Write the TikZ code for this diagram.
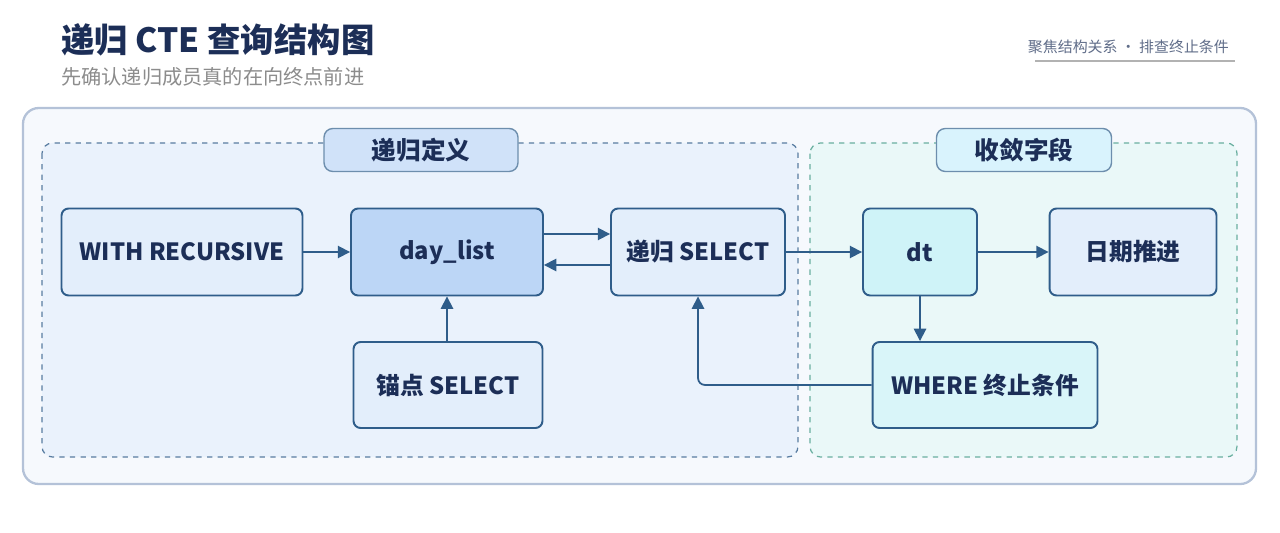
\documentclass[tikz,border=0pt]{standalone}
\usepackage{fontspec}
\setmainfont{Noto Sans CJK SC}
\usetikzlibrary{arrows.meta, positioning}

\definecolor{ink}{HTML}{1C2E57}
\definecolor{edge}{HTML}{2F5D8A}
\definecolor{boxblue}{HTML}{E3EEFB}
\definecolor{boxdeep}{HTML}{BCD6F6}
\definecolor{boxcyan}{HTML}{CFF3F8}
\definecolor{tealline}{HTML}{6AAFA0}
\definecolor{panelfill}{HTML}{F6F9FD}
\definecolor{panelline}{HTML}{B4C2D8}
\definecolor{groupfill}{HTML}{EAF2FC}
\definecolor{groupcyan}{HTML}{EAF8F8}

\tikzset{
    stage/.style={draw=edge, line width=1.1pt, rounded corners=4pt, fill=boxblue,
        text=ink, font=\fontsize{13.5}{15}\selectfont\bfseries, inner sep=0pt},
    link/.style={draw=edge, line width=1pt, -{Triangle[length=7pt, width=7pt]}},
    tag/.style={draw=edge!70, line width=0.8pt, rounded corners=5pt,
        text=ink, font=\fontsize{14}{16}\selectfont\bfseries, inner sep=0pt}
}

\begin{document}
\begin{tikzpicture}[x=0.02cm, y=-0.02cm]
        \useasboundingbox[fill=white] (0,0) rectangle (1280,533);
        % header
        \node[anchor=west, text=ink, font=\fontsize{19}{22}\selectfont\bfseries] (title) at (55,40) {递归 CTE 查询结构图};
        \node[anchor=west, text=gray!90, font=\fontsize{11.5}{14}\selectfont] (subtitle) at (55,77) {先确认递归成员真的在向终点前进};
        \node[anchor=east, text=ink!70, font=\fontsize{8.5}{10}\selectfont] (hint) at (1235,47) {聚焦结构关系 · 排查终止条件};
        \draw[gray!60, line width=1pt] (1035,61) -- (1235,61);
        % panel and groups
        \draw[draw=panelline, line width=1.3pt, fill=panelfill, rounded corners=9pt] (23,108) rectangle (1256,484);
        \draw[draw=edge!80, dashed, line width=0.7pt, fill=groupfill, rounded corners=6pt] (42,143) rectangle (798,457);
        \draw[draw=tealline, dashed, line width=0.7pt, fill=groupcyan, rounded corners=6pt] (810,143) rectangle (1237,457);
        \node[tag, fill=boxdeep!70, minimum width=3.88cm, minimum height=0.86cm] (def) at (421,150) {递归定义};
        \node[tag, fill=cyan!15, minimum width=3.5cm, minimum height=0.86cm] (conv) at (1024,150) {收敛字段};
        % stages
        \node[stage, minimum width=4.82cm, minimum height=1.74cm] (with) at (182,252) {WITH RECURSIVE};
        \node[stage, fill=boxdeep, minimum width=3.84cm, minimum height=1.74cm] (day) at (447,252) {day\_list};
        \node[stage, minimum width=3.48cm, minimum height=1.74cm] (rec) at (698,252) {递归 SELECT};
        \node[stage, minimum width=3.78cm, minimum height=1.72cm] (anchor) at (448,385) {锚点 SELECT};
        \node[stage, fill=boxcyan, minimum width=2.28cm, minimum height=1.74cm] (dt) at (920,252) {dt};
        \node[stage, minimum width=3.34cm, minimum height=1.74cm] (adv) at (1133,252) {日期推进};
        \node[stage, fill=boxcyan!80, minimum width=4.5cm, minimum height=1.72cm] (where) at (985,385) {WHERE 终止条件};
        % links
        \draw[link] (with) -- (day);
        \draw[link] (day.south |- anchor.north) -- (day.south);
        \draw[link] ([yshift=0.36cm]day.east) -- ([yshift=0.36cm]rec.west);
        \draw[link] ([yshift=-0.26cm]rec.west) -- ([yshift=-0.26cm]day.east);
        \draw[link] (rec) -- (dt);
        \draw[link] (dt) -- (adv);
        \draw[link] (dt) -- (dt |- where.north);
        \draw[link, rounded corners=4pt] (where.west) -| (rec.south);
\end{tikzpicture}
\end{document}
